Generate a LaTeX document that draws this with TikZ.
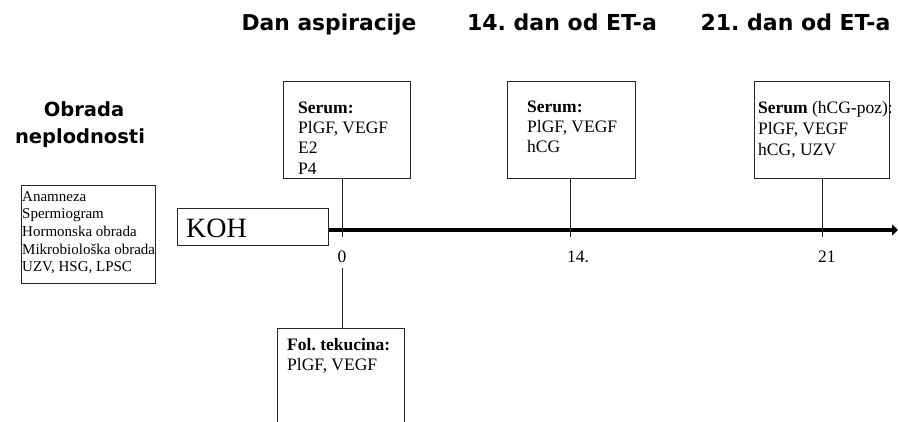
\documentclass[tikz,border=0pt]{standalone}
\usepackage{fontspec}
\setmainfont{Liberation Serif}
\newfontfamily\hdfont{DejaVu Sans}
\usetikzlibrary{arrows.meta}
\frenchspacing
\begin{document}
\begin{tikzpicture}[x=1pt,y=-1pt,
  box/.style={draw=black!85, line width=0.8pt, inner sep=0pt, anchor=north west},
  txt/.style={anchor=base west, inner sep=0pt, font=\fontsize{17.5}{20}\selectfont},
  small/.style={anchor=base west, inner sep=0pt, font=\fontsize{15}{17}\selectfont},
  head/.style={inner sep=0pt, anchor=base, font=\hdfont\bfseries\fontsize{22}{24}\selectfont},
  tick/.style={line width=0.8pt, draw=black!85}]
\useasboundingbox (0,0) rectangle (898,421);

% headings
\node[head, font=\hdfont\bfseries\fontsize{21.8}{24}\selectfont] (h1) at (329,30) {Dan aspiracije};
\node[head] (h2) at (562,30) {14. dan od ET-a};
\node[head] (h3) at (795.5,30) {21. dan od ET-a};
\node[head, font=\hdfont\bfseries\fontsize{19.5}{24}\selectfont] (ob1) at (84,116) {Obrada};
\node[head, font=\hdfont\bfseries\fontsize{19.5}{24}\selectfont] (ob2) at (80,143) {neplodnosti};

% boxes
\node[box, minimum width=134pt, minimum height=98pt] (lb) at (21,185) {};
\node[box, minimum width=151pt, minimum height=37pt] (koh) at (177,208) {};
\node[box, minimum width=127pt, minimum height=97pt] (s1) at (283,81) {};
\node[box, minimum width=128pt, minimum height=97pt] (s2) at (507,81) {};
\node[box, minimum width=135pt, minimum height=97pt] (s3) at (754,81) {};
\node[box, minimum width=127pt, minimum height=112pt] (fol) at (277,328) {};

% left box text
\node[small] (l1) at (22,201) {Anamneza};
\node[small] (l2) at (22,218.7) {Spermiogram};
\node[small] (l3) at (22,236.4) {Hormonska obrada};
\node[small] (l4) at (22,254.1) {Mikrobiološka obrada};
\node[small] (l5) at (22,271.8) {UZV, HSG, LPSC};

% KOH
\node[anchor=base west, inner sep=0pt, font=\fontsize{28}{30}\selectfont] (kt) at (186,237) {KOH};

% serum 1
\node[txt] (a1) at (298,113) {\bfseries Serum:};
\node[txt] (a2) at (298,133) {PlGF, VEGF};
\node[txt] (a3) at (298,153.5) {E2};
\node[txt] (a4) at (298,174) {P4};
% serum 2
\node[txt] (b1) at (527,112) {\bfseries Serum:};
\node[txt] (b2) at (527,132) {PlGF, VEGF};
\node[txt] (b3) at (527,152) {hCG};
% serum 3
\node[txt] (c1) at (758,113) {\textbf{Serum} (hCG-poz):};
\node[txt] (c2) at (758,134) {PlGF, VEGF};
\node[txt] (c3) at (758,155) {hCG, UZV};
% fol
\node[txt] (f1) at (287,350) {\bfseries Fol. tekucina:};
\node[txt] (f2) at (287,370) {PlGF, VEGF};

% axis
\coordinate (axs) at (329,230);
\coordinate (axe) at (898,230);
\draw[line width=4pt, -{Triangle[length=6pt,width=11pt]}] (axs) -- (axe);

% ticks
\coordinate (t0) at (342,237);
\coordinate (t14) at (570,237);
\coordinate (t21) at (822,237);
\coordinate (t0b) at (342,268);
\draw[tick] (t0 |- s1.south) -- (t0);
\draw[tick] (t14 |- s2.south) -- (t14);
\draw[tick] (t21 |- s3.south) -- (t21);
\draw[tick] (t0b) -- (t0b |- fol.north);

% tick labels
\node[anchor=base, inner sep=0pt, font=\fontsize{17.5}{20}\selectfont] (n0) at (342,262) {0};
\node[txt] (n14) at (567,262) {14.};
\node[txt] (n21) at (818,262) {21};
\end{tikzpicture}
\end{document}
